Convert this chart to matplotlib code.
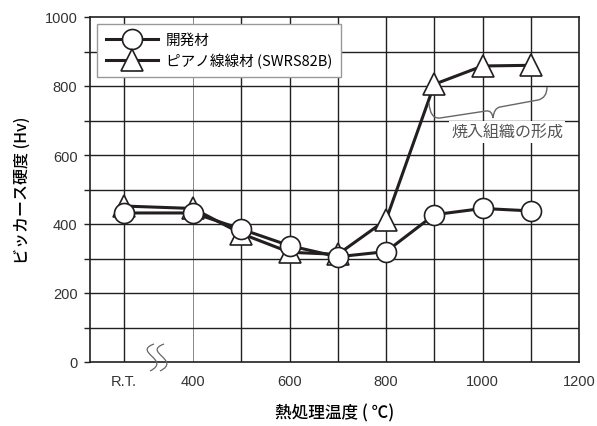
import matplotlib.pyplot as plt
from matplotlib.path import Path
from matplotlib.patches import PathPatch
from matplotlib.transforms import Affine2D
import numpy as np

plt.rcParams['font.family'] = ['Noto Sans CJK JP', 'DejaVu Sans']

# データ
rt_pos = 257          # R.T. の横位置 (軸が途中で省略されている)
temps = [rt_pos, 400, 500, 600, 700, 800, 900, 1000, 1100]
hv_dev = [432, 432, 385, 337, 305, 320, 427, 445, 438]       # 開発材
hv_piano = [452, 445, 372, 318, 312, 412, 805, 858, 860]     # ピアノ線線材 (SWRS82B)
xtick_pos = [rt_pos, 400, 600, 800, 1000, 1200]
xtick_lab = ['R.T.', '400', '600', '800', '1000', '1200']
yticks = [0, 200, 400, 600, 800, 1000]

W, H = 597, 427
fig = plt.figure(figsize=(W / 100, H / 100), dpi=100)
ax = fig.add_axes([90 / W, (H - 363) / H, (579 - 90) / W, (363 - 18) / H])

ink = '#231f20'

# グリッド
for x in [rt_pos, 500, 600, 700, 800, 900, 1000, 1100]:
    ax.axvline(x, color=ink, lw=1.0, zorder=1)
ax.axvline(400, color='#888888', lw=0.7, zorder=1)
for y in range(100, 1000, 100):
    ax.axhline(y, color=ink, lw=1.0, zorder=1)

ax.plot(temps, hv_piano, color=ink, lw=2.2, marker='^', ms=16, mfc='white',
        mec=ink, mew=1.2, zorder=3, label='ピアノ線線材 (SWRS82B)')
ax.plot(temps, hv_dev, color=ink, lw=2.2, marker='o', ms=14.4, mfc='white',
        mec=ink, mew=1.2, zorder=4, label='開発材')

ax.set_xlim(186, 1200)
ax.set_ylim(0, 1000)
ax.set_xticks(xtick_pos)
ax.set_xticklabels(xtick_lab, family=['Liberation Sans', 'DejaVu Sans'], fontsize=10.5, color='#333333')
ax.set_yticks(yticks)
ax.set_yticklabels([str(v) for v in yticks], family=['Liberation Sans', 'DejaVu Sans'], fontsize=10.5, color='#333333')
ax.set_yticks(range(100, 1000, 200), minor=True)
ax.tick_params(axis='x', length=0, pad=9)
ax.tick_params(axis='y', which='both', direction='out', length=4, width=1.0,
               color=ink, pad=5)
for s in ax.spines.values():
    s.set_color(ink)
    s.set_linewidth(1.2)

ax.set_ylabel('ビッカース硬度 (Hv)', fontsize=11.5, weight='medium', labelpad=10)
ax.set_xlabel('熱処理温度 ( ℃)', fontsize=12, weight='medium', labelpad=11)

handles, labels = ax.get_legend_handles_labels()
leg = ax.legend(handles[::-1], labels[::-1], loc='upper left',
                bbox_to_anchor=(7 / 489, 1 - 7 / 345), borderaxespad=0,
                fontsize=10.5, handlelength=3.6, handletextpad=0.5,
                labelspacing=0.45, borderpad=0.6, fancybox=False,
                edgecolor='#999999', framealpha=1)
leg.get_frame().set_linewidth(1.0)
leg.set_zorder(5)
# 凡例枠を少し右へ広げる
fig.canvas.draw()
fr = leg.get_frame()
fr.set_width(349 - 97)

# 画素座標用の変換 (左上原点)
px = Affine2D().scale(1 / W, -1 / H).translate(0, 1) + fig.transFigure

# 波括弧
verts = [(429, 104), (430, 120), (440, 119), (486, 112), (492, 111), (493, 119),
         (494, 109), (500, 108), (538, 101), (547, 99), (547, 88)]
codes = [Path.MOVETO, Path.CURVE3, Path.CURVE3, Path.LINETO, Path.CURVE3, Path.CURVE3,
         Path.CURVE3, Path.CURVE3, Path.LINETO, Path.CURVE3, Path.CURVE3]
fig.add_artist(PathPatch(Path(verts, codes), transform=px, fill=False,
                         ec='#666666', lw=1.0, zorder=6))
fig.text(507 / W, 1 - 133 / H, '焼入組織の形成', fontsize=11.5, color='#555555',
         ha='center', va='center', zorder=6,
         bbox=dict(fc='white', ec='none', pad=1.5))

# 軸の省略記号
for dx in (0, 10):
    v = [(154 + dx, 345), (132 + dx, 353), (172 + dx, 361), (150 + dx, 372)]
    c = [Path.MOVETO, Path.CURVE4, Path.CURVE4, Path.CURVE4]
    fig.add_artist(PathPatch(Path(v, c), transform=px, fill=False,
                             ec='#666666', lw=0.9, zorder=6))

fig.savefig('out.png', dpi=100)
